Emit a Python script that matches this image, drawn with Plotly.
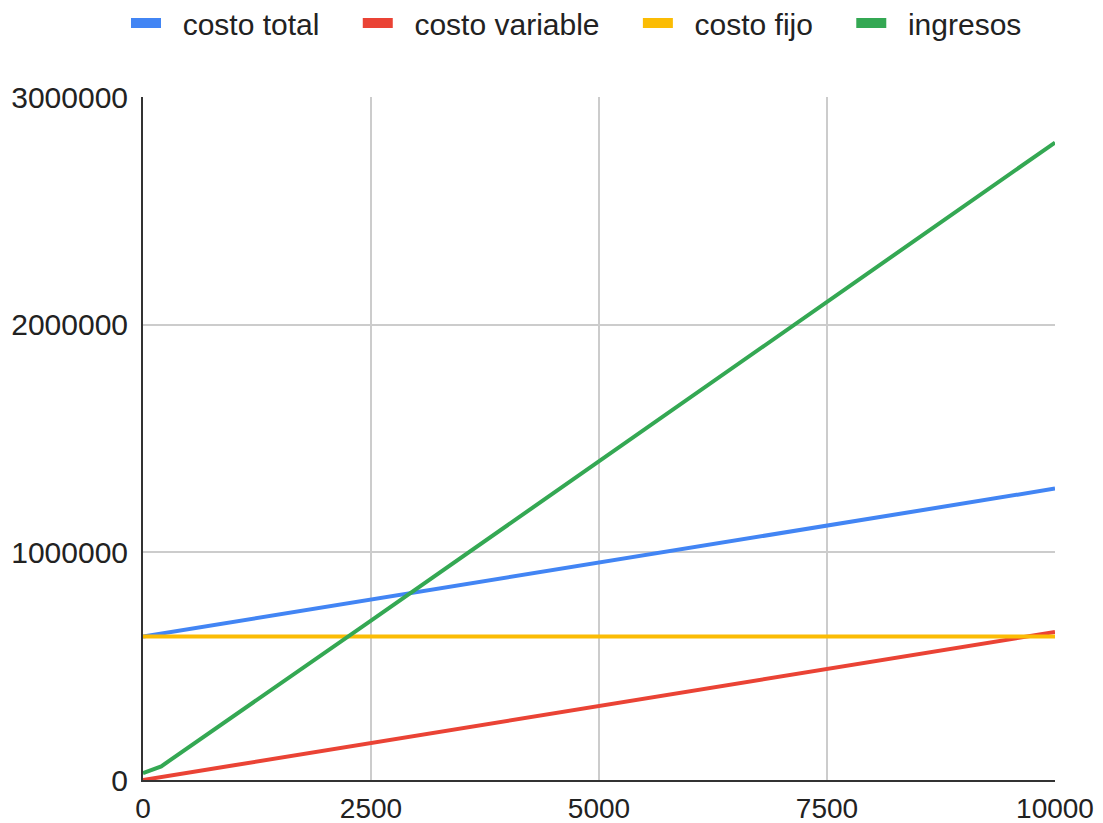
import plotly.graph_objects as go

# Units produced/sold
unidades = [0, 200, 2500, 5000, 7500, 10000]

# Cost and revenue series
costo_fijo = [630000, 630000, 630000, 630000, 630000, 630000]
costo_variable = [0, 13000, 162500, 325000, 487500, 650000]
costo_total = [630000, 643000, 792500, 955000, 1117500, 1280000]
ingresos = [30000, 60000, 700000, 1400000, 2100000, 2800000]

x_ticks = [0, 2500, 5000, 7500, 10000]
x_tick_labels = ["0", "2500", "5000", "7500", "10000"]
y_ticks = [0, 1000000, 2000000, 3000000]
y_tick_labels = ["0", "1000000", "2000000", "3000000"]

series = [
    ("costo total", costo_total, "#4285F4"),
    ("costo variable", costo_variable, "#EA4335"),
    ("costo fijo", costo_fijo, "#FBBC04"),
    ("ingresos", ingresos, "#34A853"),
]

NB = "\u00a0"
fig = go.Figure()
for i, (name, vals, color) in enumerate(series):
    fig.add_trace(go.Scatter(
        x=unidades, y=vals, name=name, mode="lines",
        line=dict(color=color, width=4), showlegend=False,
        legendgroup=name,
    ))
for i, (name, vals, color) in enumerate(series):
    # legend entry: thick short bar, padded label
    label = NB * 2 + name + (NB * 4 if i < len(series) - 1 else "")
    fig.add_trace(go.Scatter(
        x=[None], y=[None], name=label, mode="lines",
        line=dict(color=color, width=10), legendgroup=name,
    ))

font_family = "Arial, Liberation Sans, sans-serif"

fig.update_layout(
    width=1103, height=823,
    margin=dict(l=143, r=48, t=97, b=43, autoexpand=False),
    paper_bgcolor="white", plot_bgcolor="white",
    font=dict(family=font_family, size=28, color="#222222"),
    legend=dict(
        orientation="h", xref="container", yref="container",
        x=126 / 1103, xanchor="left", y=1 - 23 / 823, yanchor="middle",
        font=dict(size=30, color="#222222"), itemwidth=30,
        bgcolor="rgba(0,0,0,0)",
    ),
)

fig.update_xaxes(
    range=[0, 10000], tickvals=x_ticks, ticktext=x_tick_labels,
    showgrid=True, gridcolor="#cccccc", gridwidth=2,
    showline=True, linecolor="#333333", linewidth=2,
    zeroline=False, ticks="", ticklabelstandoff=2, automargin=False,
    tickfont=dict(size=28),
)
fig.update_yaxes(
    range=[0, 3000000], tickvals=y_ticks, ticktext=y_tick_labels,
    showgrid=True, gridcolor="#cccccc", gridwidth=2,
    showline=True, linecolor="#333333", linewidth=2,
    zeroline=False, ticks="", ticklabelstandoff=7, automargin=False,
    tickfont=dict(size=30),
)

fig.write_html("out.html")
